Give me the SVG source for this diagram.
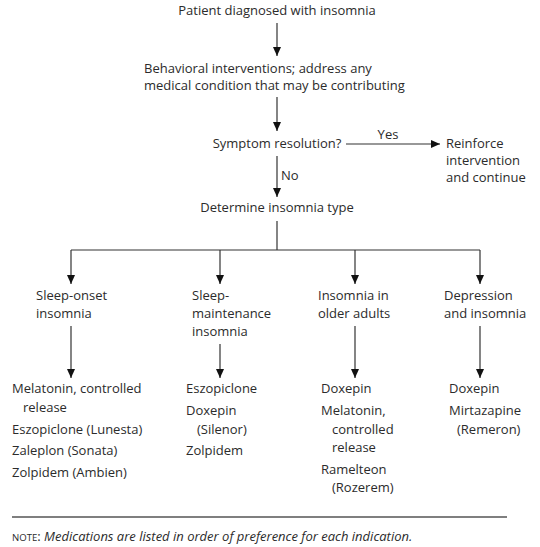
<svg xmlns="http://www.w3.org/2000/svg" width="540" height="547" viewBox="0 0 540 547">
<defs>
<marker id="ah" markerUnits="userSpaceOnUse" markerWidth="9" markerHeight="11" refX="9" refY="4" orient="auto">
<path d="M0,0 L9,4 L0,8 z" fill="#111"/>
</marker>
<style>
text{font-family:"Open Sans","Noto Sans","Liberation Sans",sans-serif;font-size:13px;fill:#2b2b2b}
.m{text-anchor:middle}
.c line,.c polyline{stroke:#333;stroke-width:1.2;fill:none}
.a{marker-end:url(#ah)}
.rule{stroke:#555;stroke-width:1.3}
.sc{font-size:9.6px}
.it{font-style:italic}
</style>
</defs>
<rect width="540" height="547" fill="#fff"/>
<g class="c" id="connectors">
<line class="a" x1="277" y1="23" x2="277" y2="56"/>
<line class="a" x1="277" y1="97" x2="277" y2="131"/>
<line class="a" x1="346" y1="144" x2="440" y2="144"/>
<line class="a" x1="277" y1="156" x2="277" y2="197"/>
<polyline points="277,221 277,250"/>
<polyline points="71,250 480,250"/>
<line class="a" x1="71" y1="250" x2="71" y2="284"/>
<line class="a" x1="220" y1="250" x2="220" y2="284"/>
<line class="a" x1="355" y1="250" x2="355" y2="284"/>
<line class="a" x1="480" y1="250" x2="480" y2="284"/>
<line class="a" x1="71" y1="326" x2="71" y2="378"/>
<line class="a" x1="220" y1="344" x2="220" y2="378"/>
<line class="a" x1="355" y1="326" x2="355" y2="378"/>
<line class="a" x1="480" y1="326" x2="480" y2="378"/>
<text x="388" y="139" class="m">Yes</text>
<text x="281" y="180">No</text>
</g>
<g id="n-start"><text x="277" y="15" class="m">Patient diagnosed with insomnia</text></g>
<g id="n-behavioral">
<text x="144" y="73">Behavioral interventions; address any</text>
<text x="144" y="90">medical condition that may be contributing</text>
</g>
<g id="n-symptom"><text x="277" y="148" class="m">Symptom resolution?</text></g>
<g id="n-reinforce">
<text x="446" y="148">Reinforce</text>
<text x="446" y="165">intervention</text>
<text x="446" y="182">and continue</text>
</g>
<g id="n-determine"><text x="277" y="212" class="m">Determine insomnia type</text></g>
<g id="n-onset">
<text x="36" y="300">Sleep-onset</text>
<text x="36" y="318">insomnia</text>
</g>
<g id="n-maintenance">
<text x="192" y="300">Sleep-</text>
<text x="192" y="318">maintenance</text>
<text x="192" y="336">insomnia</text>
</g>
<g id="n-older">
<text x="318" y="300">Insomnia in</text>
<text x="318" y="318">older adults</text>
</g>
<g id="n-depression">
<text x="444" y="300">Depression</text>
<text x="444" y="318">and insomnia</text>
</g>
<g id="n-meds-onset">
<text x="12" y="393">Melatonin, controlled</text>
<text x="23" y="411.5">release</text>
<text x="12" y="433.5">Eszopiclone (Lunesta)</text>
<text x="12" y="455">Zaleplon (Sonata)</text>
<text x="12" y="476.5">Zolpidem (Ambien)</text>
</g>
<g id="n-meds-maintenance">
<text x="186" y="393">Eszopiclone</text>
<text x="186" y="415">Doxepin</text>
<text x="197" y="433.5">(Silenor)</text>
<text x="186" y="455">Zolpidem</text>
</g>
<g id="n-meds-older">
<text x="321" y="393">Doxepin</text>
<text x="321" y="415">Melatonin,</text>
<text x="332" y="433.5">controlled</text>
<text x="332" y="452">release</text>
<text x="321" y="473.5">Ramelteon</text>
<text x="332" y="492">(Rozerem)</text>
</g>
<g id="n-meds-depression">
<text x="449" y="393">Doxepin</text>
<text x="449" y="415">Mirtazapine</text>
<text x="457" y="433.5">(Remeron)</text>
</g>
<g id="note">
<line class="rule" x1="12" y1="517" x2="507" y2="517"/>
<text x="12" y="541"><tspan class="sc">NOTE</tspan>: <tspan class="it">Medications are listed in order of preference for each indication.</tspan></text>
</g>
</svg>
